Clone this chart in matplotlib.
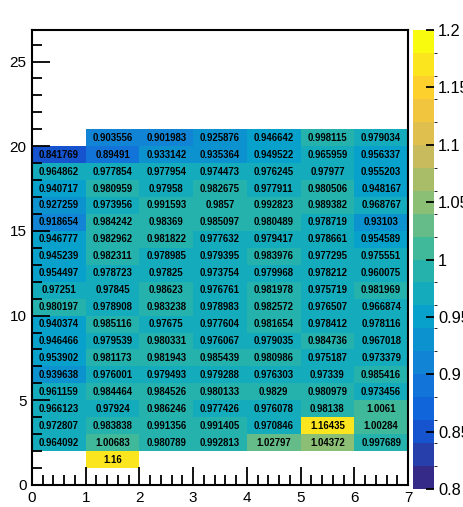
import numpy as np
import matplotlib
matplotlib.use("Agg")
import matplotlib.pyplot as plt
from matplotlib.colors import LinearSegmentedColormap, BoundaryNorm
from matplotlib.ticker import MultipleLocator

plt.rcParams['font.family'] = ['Liberation Sans', 'DejaVu Sans']

x_edges = [0, 1, 2, 3, 4, 5, 6, 7]
y_edges = list(range(1, 22))

# rows listed from top (y bin 20-21) down to y bin 1-2; None = empty bin
row_20 = [None, 0.903556, 0.901983, 0.925876, 0.946642, 0.998115, 0.979034]
row_19 = [0.841769, 0.89491, 0.933142, 0.935364, 0.949522, 0.965959, 0.956337]
row_18 = [0.964862, 0.977854, 0.977954, 0.974473, 0.976245, 0.97977, 0.955203]
row_17 = [0.940717, 0.980959, 0.97958, 0.982675, 0.977911, 0.980506, 0.948167]
row_16 = [0.927259, 0.973956, 0.991593, 0.9857, 0.992823, 0.989382, 0.968767]
row_15 = [0.918654, 0.984242, 0.98369, 0.985097, 0.980489, 0.978719, 0.93103]
row_14 = [0.946777, 0.982962, 0.981822, 0.977632, 0.979417, 0.978661, 0.954589]
row_13 = [0.945239, 0.982311, 0.978985, 0.979395, 0.983976, 0.977295, 0.975551]
row_12 = [0.954497, 0.978723, 0.97825, 0.973754, 0.979968, 0.978212, 0.960075]
row_11 = [0.97251, 0.97845, 0.98623, 0.976761, 0.981978, 0.975719, 0.981969]
row_10 = [0.980197, 0.978908, 0.983238, 0.978983, 0.982572, 0.976507, 0.966874]
row_9 = [0.940374, 0.985116, 0.97675, 0.977604, 0.981654, 0.978412, 0.978116]
row_8 = [0.946466, 0.979539, 0.980331, 0.976067, 0.979035, 0.984736, 0.967018]
row_7 = [0.953902, 0.981173, 0.981943, 0.985439, 0.980986, 0.975187, 0.973379]
row_6 = [0.939638, 0.976001, 0.979493, 0.979288, 0.976303, 0.97339, 0.985416]
row_5 = [0.961159, 0.984464, 0.984526, 0.980133, 0.9829, 0.980979, 0.973456]
row_4 = [0.966123, 0.97924, 0.986246, 0.977426, 0.976078, 0.98138, 1.0061]
row_3 = [0.972807, 0.983838, 0.991356, 0.991405, 0.970846, 1.16435, 1.00284]
row_2 = [0.964092, 1.00683, 0.980789, 0.992813, 1.02797, 1.04372, 0.997689]
row_1 = [None, 1.16, None, None, None, None, None]

rows_top_down = [row_20, row_19, row_18, row_17, row_16, row_15, row_14, row_13,
                 row_12, row_11, row_10, row_9, row_8, row_7, row_6, row_5,
                 row_4, row_3, row_2, row_1]

z_min, z_max, n_levels = 0.8, 1.2, 20
cbar_ticks = [0.8, 0.85, 0.9, 0.95, 1.0, 1.05, 1.1, 1.15, 1.2]
cbar_labels = ["0.8", "0.85", "0.9", "0.95", "1", "1.05", "1.1", "1.15", "1.2"]

# ROOT kBird palette
stops = [0.0, 0.125, 0.25, 0.375, 0.5, 0.625, 0.75, 0.875, 1.0]
red = [0.2082, 0.0592, 0.0780, 0.0232, 0.1802, 0.5301, 0.8186, 0.9956, 0.9764]
green = [0.1664, 0.3599, 0.5041, 0.6419, 0.7178, 0.7492, 0.7328, 0.7862, 0.9832]
blue = [0.5293, 0.8684, 0.8385, 0.7914, 0.6425, 0.4662, 0.3499, 0.1968, 0.0539]
cmap = LinearSegmentedColormap.from_list(
    "bird", list(zip(stops, zip(red, green, blue))), N=256)
levels = np.linspace(z_min, z_max, n_levels + 1)
norm = BoundaryNorm(levels, cmap.N)

Z = np.array([[np.nan if v is None else v for v in r] for r in rows_top_down[::-1]])
Zm = np.ma.masked_invalid(Z)

W, H = 463, 507
fig = plt.figure(figsize=(W / 100, H / 100), dpi=100)
ax = fig.add_axes([32 / W, (H - 485) / H, 376 / W, 455 / H])
mesh = ax.pcolormesh(x_edges, y_edges, Zm, cmap=cmap, norm=norm)

xc = (np.array(x_edges[:-1]) + np.array(x_edges[1:])) / 2
yc = (np.array(y_edges[:-1]) + np.array(y_edges[1:])) / 2
for i in range(Z.shape[0]):
    for j in range(Z.shape[1]):
        v = Z[i, j]
        if not np.isnan(v):
            ax.text(xc[j], yc[i], f"{v:g}", ha="center", va="center",
                    fontsize=6.9, fontweight="bold", color="black")

ax.set_xlim(0, 7)
ax.set_ylim(0, 26.86)
ax.xaxis.set_major_locator(MultipleLocator(1))
ax.xaxis.set_minor_locator(MultipleLocator(0.2))
ax.yaxis.set_major_locator(MultipleLocator(5))
ax.yaxis.set_minor_locator(MultipleLocator(1))
ax.tick_params(which="both", direction="in", top=False, right=False,
               labelsize=11, width=1.3, pad=4)
ax.tick_params(which="major", length=13)
ax.tick_params(which="minor", length=7)
for s in ax.spines.values():
    s.set_linewidth(1.5)

cax = fig.add_axes([413 / W, (H - 489) / H, 21 / W, 459 / H])
cb = fig.colorbar(mesh, cax=cax, ticks=cbar_ticks, spacing="proportional")
cb.ax.set_yticklabels(cbar_labels)
cb.outline.set_visible(False)
cax.tick_params(direction="in", length=6, width=1.3, labelsize=11.8, pad=3)

fig.savefig("out.png", dpi=100)
